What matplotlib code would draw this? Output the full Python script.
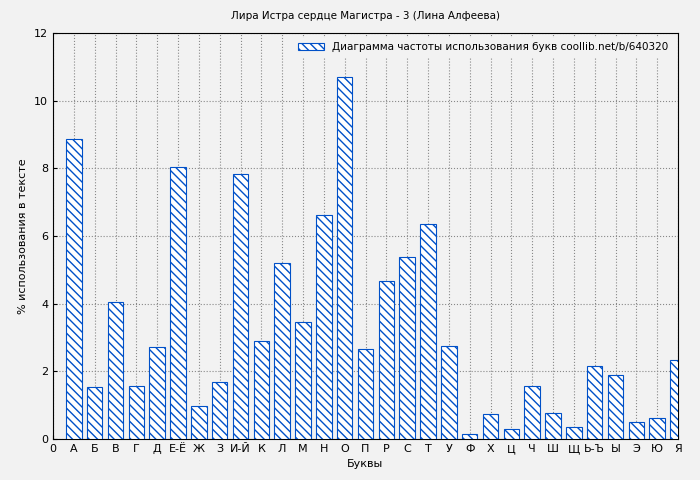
import matplotlib
matplotlib.use("Agg")
import matplotlib.pyplot as plt

letters = ["А", "Б", "В", "Г", "Д", "Е-Ё", "Ж", "З", "И-Й", "К", "Л", "М", "Н", "О", "П",
           "Р", "С", "Т", "У", "Ф", "Х", "Ц", "Ч", "Ш", "Щ", "Ь-Ъ", "Ы", "Э", "Ю", "Я"]
values = [8.87, 1.54, 4.05, 1.57, 2.72, 8.04, 0.98, 1.68, 7.83, 2.90, 5.20, 3.46, 6.62, 10.70, 2.66,
          4.67, 5.38, 6.36, 2.75, 0.15, 0.74, 0.30, 1.57, 0.77, 0.35, 2.16, 1.89, 0.50, 0.62, 2.34]

bg = "#f2f2f2"
fig = plt.figure(figsize=(7, 4.8), dpi=100, facecolor=bg)
ax = fig.add_axes([53/700, 41/480, 625/700, 406/480], facecolor=bg)

xs = list(range(1, len(letters) + 1))
ax.bar(xs, values, width=0.75, color="white", edgecolor="#0050c8", hatch="\\\\\\\\",
       linewidth=0.8, label="Диаграмма частоты использования букв coollib.net/b/640320", zorder=3)
ax.set_xlim(0, 29)
ax.set_ylim(0, 12)
ax.set_xticks([0] + xs)
ax.set_xticklabels(["0"] + letters, fontsize=8)
ax.set_yticks(range(0, 13, 2))
ax.tick_params(axis="y", labelsize=8)
ax.tick_params(direction="in", length=3)
ax.grid(True, linestyle=":", color="#888888", linewidth=0.8, zorder=0)
ax.set_title("Лира Истра сердце Магистра - 3 (Лина Алфеева)", fontsize=7.5, pad=10)
ax.set_xlabel("Буквы", fontsize=8)
ax.set_ylabel("% использования в тексте", fontsize=8)
leg = ax.legend(loc="upper right", fontsize=7.5, frameon=True, fancybox=False,
                edgecolor="none", facecolor=bg, framealpha=1, handlelength=2.5)
fig.savefig("out.png", dpi=100, facecolor=bg)
